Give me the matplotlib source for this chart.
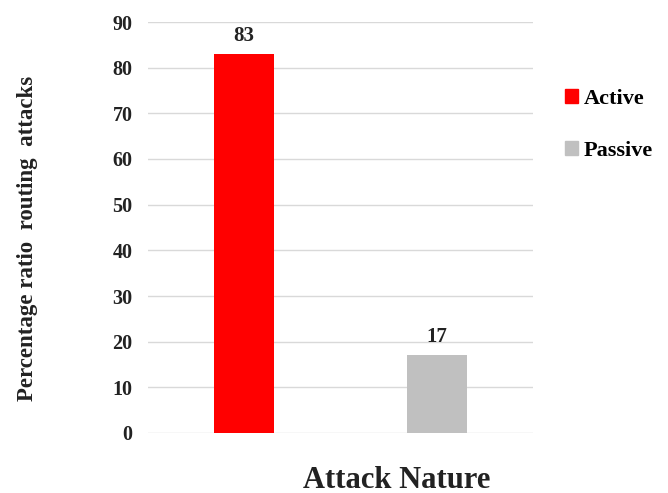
import matplotlib.pyplot as plt
from matplotlib.patches import Patch

categories = ['Active', 'Passive']
values = [83, 17]
colors = ['#ff0000', '#c0c0c0']

plt.rcParams['font.family'] = ['Liberation Serif', 'DejaVu Serif']
plt.rcParams['font.weight'] = 'bold'

fig = plt.figure(figsize=(6.68, 4.93), dpi=100)
ax = fig.add_axes([148 / 668, 60 / 493, 385 / 668, 411 / 493])

x = range(len(categories))
bars = ax.bar(x, values, width=0.31, color=colors, zorder=3)
for b, v in zip(bars, values):
    ax.text(b.get_x() + b.get_width() / 2, v + 1.8, str(v), ha='center', va='bottom',
            fontsize=15, fontweight='bold', color='#222222')

ax.set_xlim(-0.5, 1.5)
ax.set_ylim(0, 90)
ax.set_yticks(range(0, 91, 10))
ax.set_xticks([])
ax.grid(axis='y', color='#d9d9d9', linewidth=1, zorder=0)
for s in ax.spines.values():
    s.set_visible(False)
ax.tick_params(axis='y', length=0, pad=11, labelsize=14.5)
for lbl in ax.get_yticklabels():
    lbl.set_fontweight('bold')
    lbl.set_color('#222222')

# x label sits right of the axes centre in the original
fig.text(397 / 668, (493 - 480) / 493, 'Attack Nature', ha='center', va='center',
         fontsize=22, fontweight='bold', color='#222222')
fig.text(28 / 668, (493 - 238) / 493, 'Percentage ratio  routing  attacks',
         rotation=90, ha='center', va='center', fontsize=16.5, fontweight='bold', color='#222222')

handles = [Patch(color=c, label=n) for c, n in zip(colors, categories)]
fig.legend(handles=handles, loc='upper left', bbox_to_anchor=(545 / 668, 1 - 69 / 493),
           frameon=False, prop={'size': 16, 'weight': 'bold'}, handlelength=0.6,
           handleheight=0.6, handletextpad=0.25, labelspacing=1.45)

fig.savefig('out.png', dpi=100)
